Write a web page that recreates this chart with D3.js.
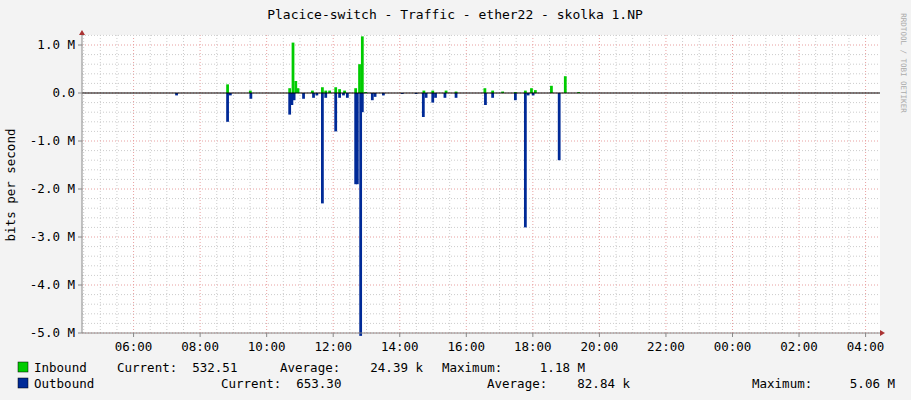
<!DOCTYPE html>
<html><head><meta charset="utf-8">
<script src="https://cdn.jsdelivr.net/npm/d3@7"></script>
<style>body{margin:0;background:#f3f3f3}text{font-family:"DejaVu Sans Mono",monospace}</style>
</head><body><svg width="911" height="400"></svg>
<script>
// data: time of day (5 min samples), values in M bits/s
const inTimes = ['08:47','09:28','10:39','10:45','10:50','10:54','11:20','11:38','11:44','11:51','12:02','12:09','12:18','12:38','12:45','12:50','12:56','14:41','14:57','15:21','15:39','16:31','16:45','17:03','17:26','17:44','17:55','18:02','18:31','18:56','19:20'];
const inVals = [0.18,0.05,0.1,1.05,0.25,0.1,0.05,0.12,0.05,0.05,0.12,0.08,0.05,0.1,0.6,1.18,0.02,0.05,0.05,0.05,0.03,0.1,0.05,0.03,0.02,0.05,0.1,0.06,0.15,0.35,0.02];
const outTimes = ['07:15','08:47','08:52','09:29','10:39','10:43','10:47','11:04','11:22','11:28','11:38','11:44','12:02','12:09','12:16','12:23','12:38','12:41','12:47','12:50','13:08','13:13','13:28','14:02','14:27','14:40','14:45','14:57','15:02','15:19','15:39','16:32','16:45','17:26','17:44','17:49','17:58','18:45'];
const outVals = [0.05,0.6,0.05,0.12,0.45,0.25,0.15,0.12,0.1,0.05,2.3,0.1,0.8,0.1,0.05,0.1,1.9,1.9,5.06,0.4,0.15,0.08,0.05,0.02,0.02,0.5,0.1,0.2,0.1,0.1,0.1,0.25,0.1,0.15,2.8,0.05,0.05,1.4];
const yTicks = [1, 0, -1, -2, -3, -4, -5];
const yTickLabels = ['1.0 M','0.0','-1.0 M','-2.0 M','-3.0 M','-4.0 M','-5.0 M'];

const svg = d3.select('svg');
const day = t => { const [h, m] = t.split(':'); return new Date(2020, 0, 1, +h, +m); };
const x = d3.scaleTime().domain([new Date(2020,0,1,4,27), new Date(2020,0,2,4,26)]).range([82, 880]);
const y = d3.scaleLinear().domain([-5, 1.2]).range([333, 35.4]);
const step = t => new Date(t.getTime() + 5 * 60000);

svg.append('rect').attr('x', 82).attr('y', 35).attr('width', 798).attr('height', 298).attr('fill', '#fff');

// grid
const g = svg.append('g');
x.ticks(d3.timeMinute.every(30)).forEach(t => {
  const major = t.getMinutes() === 0 && t.getHours() % 2 === 0;
  g.append('line').attr('x1', x(t)).attr('x2', x(t)).attr('y1', 35).attr('y2', 333)
    .attr('stroke', major ? '#e8a0a0' : '#ccc').attr('stroke-dasharray', '1,2');
});
d3.range(-25, 7).forEach(i => {
  const v = i / 5, major = i % 5 === 0;
  g.append('line').attr('x1', 82).attr('x2', 880).attr('y1', y(v)).attr('y2', y(v))
    .attr('stroke', major ? '#e8a0a0' : '#ccc').attr('stroke-dasharray', '1,2');
});

// bars
const bars = (times, vals, sign, col) => svg.append('g').selectAll('rect').data(times.map((t, i) => ({ t: day(t), v: vals[i] * sign })))
  .enter().append('rect')
  .attr('x', d => x(d.t)).attr('width', d => x(step(d.t)) - x(d.t))
  .attr('y', d => y(Math.max(0, d.v))).attr('height', d => Math.abs(y(d.v) - y(0)))
  .attr('fill', col);
bars(inTimes, inVals, 1, '#00cc00');
bars(outTimes, outVals, -1, '#002a97');

svg.append('line').attr('x1', 82).attr('x2', 880).attr('y1', y(0)).attr('y2', y(0)).attr('stroke', '#000');

// axes
svg.append('line').attr('x1', 82).attr('x2', 882).attr('y1', 333).attr('y2', 333).attr('stroke', '#888');
svg.append('path').attr('d', 'M880,330L885,333L880,336Z').attr('fill', '#a33');
svg.append('line').attr('x1', 82).attr('x2', 82).attr('y1', 333).attr('y2', 32).attr('stroke', '#888');
svg.append('path').attr('d', 'M79,35L82,30L85,35Z').attr('fill', '#a33');

yTicks.forEach((v, i) => {
  svg.append('text').attr('x', 75).attr('y', y(v) + 4).attr('text-anchor', 'end').attr('font-size', 12.5).attr('fill', '#000').text(yTickLabels[i]);
  svg.append('line').attr('x1', 78).attr('x2', 82).attr('y1', y(v)).attr('y2', y(v)).attr('stroke', '#888');
});
x.ticks(d3.timeHour.every(2)).forEach(t => {
  svg.append('text').attr('x', x(t)).attr('y', 351).attr('text-anchor', 'middle').attr('font-size', 12.5).text(d3.timeFormat('%H:%M')(t));
  svg.append('line').attr('x1', x(t)).attr('x2', x(t)).attr('y1', 333).attr('y2', 337).attr('stroke', '#888');
});

svg.append('text').attr('x', 455).attr('y', 19).attr('text-anchor', 'middle').attr('font-size', 13).text('Placice-switch - Traffic - ether22 - skolka 1.NP');
svg.append('text').attr('transform', 'translate(15,185) rotate(-90)').attr('text-anchor', 'middle').attr('font-size', 12.5).text('bits per second');
svg.append('text').attr('transform', 'translate(901,63) rotate(90)').attr('text-anchor', 'middle').attr('font-size', 7.5).attr('fill', '#aaa').text('RRDTOOL / TOBI OETIKER');

// legend
const leg = (yy, col, items) => {
  svg.append('rect').attr('x', 18).attr('y', yy - 10).attr('width', 10).attr('height', 10).attr('fill', col).attr('stroke', '#000').attr('stroke-width', 0.5);
  items.forEach(([xx, s]) => svg.append('text').attr('x', xx).attr('y', yy).attr('font-size', 12.5).attr('xml:space', 'preserve').text(s));
};
leg(372, '#00cc00', [[34, 'Inbound'], [117, 'Current:  532.51'], [280, 'Average:    24.39 k'], [442, 'Maximum:     1.18 M']]);
leg(388, '#002a97', [[34, 'Outbound'], [221, 'Current:  653.30'], [487, 'Average:    82.84 k'], [752, 'Maximum:     5.06 M']]);
</script></body></html>
